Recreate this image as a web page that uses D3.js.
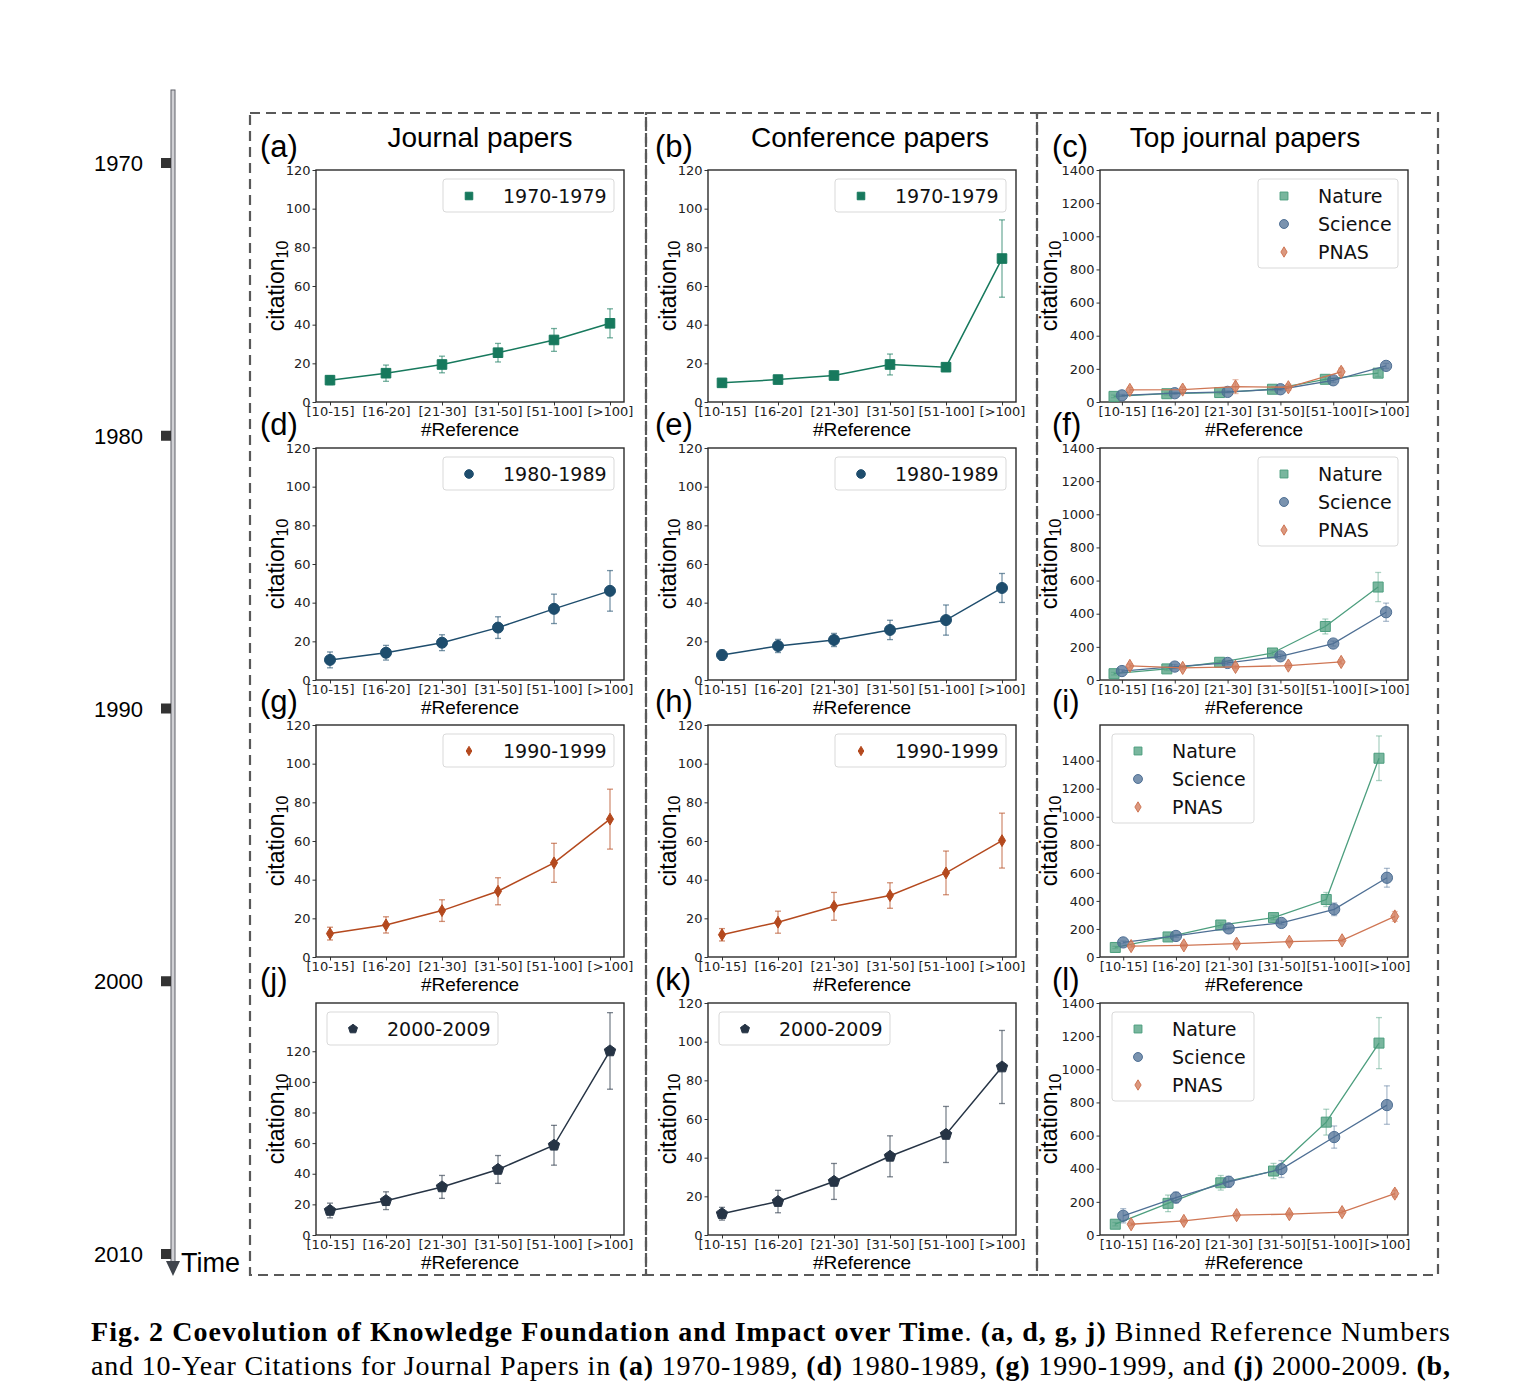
<!DOCTYPE html>
<meta charset="utf-8">
<head>
  <title>Coevolution of Knowledge Foundation and Impact</title>
</head>
<style>
body { margin: 0; background: #fff; }
.tick text { font-family: "DejaVu Sans", sans-serif; fill: #222; }
.tick line { stroke: #333; }
</style>

<script src="https://d3js.org/d3.v7.min.js"></script>

<div id="viz"></div>

<script>
// ---- data ----
var bins = ["[10-15]", "[16-20]", "[21-30]", "[31-50]", "[51-100]", "[>100]"];

// journal papers (a, d, g, j)
var jour70 = [11.3, 14.9, 19.4, 25.5, 32.1, 40.7];
var jour70Err = [2.3, 4.2, 4.3, 4.8, 5.9, 7.5];
var jour80 = [10.4, 14.1, 19.3, 27.1, 36.8, 46.1];
var jour80Err = [4.1, 3.8, 4.1, 5.6, 7.6, 10.5];
var jour90 = [12.1, 16.6, 24.0, 34.0, 48.7, 71.3];
var jour90Err = [3.3, 4.2, 5.6, 7.0, 10.1, 15.5];
var jour00 = [16.0, 22.4, 31.4, 42.8, 58.6, 120.2];
var jour00Err = [4.8, 5.8, 7.5, 9.1, 13.0, 25.0];

// conference papers (b, e, h, k)
var conf70 = [9.9, 11.6, 13.7, 19.4, 18.0, 74.2];
var conf70Err = [1.0, 1.2, 1.2, 5.4, 1.5, 20.0];
var conf80 = [12.9, 17.6, 20.7, 25.9, 31.0, 47.6];
var conf80Err = [2.6, 3.4, 3.4, 5.0, 7.8, 7.5];
var conf90 = [11.5, 18.0, 26.2, 31.8, 43.5, 60.2];
var conf90Err = [3.2, 5.7, 7.2, 6.6, 11.3, 14.2];
var conf00 = [11.0, 17.3, 27.7, 40.7, 52.0, 86.9];
var conf00Err = [3.3, 5.8, 9.3, 10.6, 14.5, 18.9];

// top journal papers (c, f, i, l)
var nature70 = [34, 50, 57, 77, 137, 174];
var nature70Err = [8, 8, 8, 10, 15, 20];
var science70 = [40, 53, 61, 77, 131, 218];
var science70Err = [6, 6, 6, 8, 12, 15];
var pnas70 = [73, 75, 93, 89, 182];
var pnas70Err = [15, 15, 42, 18, 22];

var nature80 = [38, 67, 107, 163, 323, 561];
var nature80Err = [8, 10, 10, 12, 45, 88];
var science80 = [54, 81, 103, 143, 220, 409];
var science80Err = [8, 12, 10, 12, 15, 55];
var pnas80 = [85, 73, 79, 87, 109];
var pnas80Err = [12, 10, 10, 10, 12];

var nature90 = [68, 143, 228, 281, 410, 1417];
var nature90Err = [8, 10, 15, 15, 50, 159];
var science90 = [104, 150, 204, 243, 340, 565];
var science90Err = [10, 10, 10, 12, 45, 67];
var pnas90 = [78, 83, 95, 109, 119, 289];
var pnas90Err = [8, 8, 8, 8, 8, 35];

var nature00 = [65, 191, 315, 386, 681, 1158];
var nature00Err = [10, 50, 44, 46, 78, 154];
var science00 = [116, 226, 321, 398, 591, 784];
var science00Err = [43, 33, 33, 51, 67, 116];
var pnas00 = [65, 85, 120, 126, 138, 250];
var pnas00Err = [8, 8, 10, 10, 10, 20];

var decades = ["1970-1979", "1980-1989", "1990-1999", "2000-2009"];
var journals = ["Nature", "Science", "PNAS"];
var timeYears = [1970, 1980, 1990, 2000, 2010];
var colTitles = ["Journal papers", "Conference papers", "Top journal papers"];
var panelLetters = [["a", "b", "c"], ["d", "e", "f"], ["g", "h", "i"], ["j", "k", "l"]];
var ticks120 = [0, 20, 40, 60, 80, 100, 120];
var ticks1400 = [0, 200, 400, 600, 800, 1000, 1200, 1400];

// ---- markers ----
var symThinDiamond = { draw: function(ctx, size) {
  var h = Math.sqrt(size / 0.3) / 2, w = h * 0.6;
  ctx.moveTo(0, -h); ctx.lineTo(w, 0); ctx.lineTo(0, h); ctx.lineTo(-w, 0); ctx.closePath();
}};
var symPentagon = { draw: function(ctx, size) {
  var r = Math.sqrt(size / 2.378);
  for (var i = 0; i < 5; i++) {
    var a = -Math.PI / 2 + i * 2 * Math.PI / 5;
    if (i == 0) ctx.moveTo(r * Math.cos(a), r * Math.sin(a));
    else ctx.lineTo(r * Math.cos(a), r * Math.sin(a));
  }
  ctx.closePath();
}};

var decadeStyle = [
  {color: "#17795d", sym: d3.symbolSquare, size: 92},
  {color: "#1e4d6d", sym: d3.symbolCircle, size: 95},
  {color: "#b4491e", sym: symThinDiamond, size: 42},
  {color: "#263445", sym: symPentagon, size: 85}
];
var journalStyle = [
  {color: "#4c9e7e", sym: d3.symbolSquare, size: 100, offset: -0.15},
  {color: "#4e6f94", sym: d3.symbolCircle, size: 100, offset: 0},
  {color: "#cf7654", sym: symThinDiamond, size: 52, offset: 0.15}
];

// ---- layout ----
var colLeft = [316, 708, 1100];
var rowTop = [170, 448, 725, 1003];
var pw = 308, ph = 232;

var svg = d3.select("#viz").append("svg")
  .attr("width", 1540).attr("height", 1385);

// dashed column boxes
[[250, 646], [646, 1037], [1037, 1438]].forEach(function(c) {
  svg.append("rect")
    .attr("x", c[0]).attr("y", 113).attr("width", c[1] - c[0]).attr("height", 1162)
    .attr("fill", "none").attr("stroke", "#595959").attr("stroke-width", 2.2)
    .attr("stroke-dasharray", "10,6");
});

// column titles
[480, 870, 1245].forEach(function(cx, i) {
  svg.append("text").attr("x", cx).attr("y", 147)
    .attr("text-anchor", "middle")
    .style("font-family", "Liberation Sans, Arial, sans-serif").style("font-size", "28px")
    .text(colTitles[i]);
});

function drawPanel(col, row, series, opts) {
  var left = colLeft[col], top = rowTop[row];
  var g = svg.append("g").attr("transform", "translate(" + left + "," + top + ")");

  var x = d3.scaleLinear().domain(opts.xDomain).range([0, pw]);
  var y = d3.scaleLinear().domain([0, opts.yMax]).range([ph, 0]);

  g.append("g")
    .attr("transform", "translate(0," + ph + ")")
    .call(d3.axisBottom(x).tickValues(d3.range(bins.length)).tickFormat(function(i) { return bins[i]; })
      .tickSize(3.5).tickPadding(1.5))
    .call(function(a) { a.select(".domain").remove(); })
    .selectAll("text").style("font-size", "13px");

  g.append("g")
    .call(d3.axisLeft(y).tickValues(opts.yTicks).tickFormat(d3.format("d")).tickSize(3.5).tickPadding(2))
    .call(function(a) { a.select(".domain").remove(); })
    .selectAll("text").style("font-size", "13px");

  g.append("rect").attr("width", pw).attr("height", ph)
    .attr("fill", "none").attr("stroke", "#2b2b2b").attr("stroke-width", 1.4);

  series.forEach(function(s) {
    var pts = s.values.map(function(v, i) { return {x: i + s.offset, v: v, e: s.err[i]}; });
    var line = d3.line().x(function(d) { return x(d.x); }).y(function(d) { return y(d.v); });
    g.append("path").datum(pts)
      .attr("d", line).attr("fill", "none")
      .attr("stroke", s.color).attr("stroke-width", s.lw);

    var eb = g.append("g").attr("stroke", s.color).attr("stroke-opacity", s.errOpacity).attr("stroke-width", 1.3);
    pts.forEach(function(d) {
      var cx = x(d.x);
      eb.append("line").attr("x1", cx).attr("x2", cx).attr("y1", y(d.v - d.e)).attr("y2", y(d.v + d.e));
      eb.append("line").attr("x1", cx - 3).attr("x2", cx + 3).attr("y1", y(d.v - d.e)).attr("y2", y(d.v - d.e));
      eb.append("line").attr("x1", cx - 3).attr("x2", cx + 3).attr("y1", y(d.v + d.e)).attr("y2", y(d.v + d.e));
    });

    g.append("g").selectAll("path").data(pts).enter().append("path")
      .attr("transform", function(d) { return "translate(" + x(d.x) + "," + y(d.v) + ")"; })
      .attr("d", d3.symbol().type(s.sym).size(s.size))
      .attr("fill", s.color).attr("fill-opacity", s.fillOpacity)
      .attr("stroke", s.color).attr("stroke-width", 1);
  });

  // legend
  var lg = opts.legend;
  g.append("rect")
    .attr("x", lg.x).attr("y", 9).attr("width", lg.w).attr("height", 33 + (series.length - 1) * 28)
    .attr("rx", 3).attr("fill", "#fff").attr("fill-opacity", 0.8)
    .attr("stroke", "#d9d9d9").attr("stroke-width", 1);
  series.forEach(function(s, i) {
    var ly = 26 + i * 28;
    g.append("path")
      .attr("transform", "translate(" + (lg.x + 26) + "," + ly + ")")
      .attr("d", d3.symbol().type(s.sym).size(s.size * 0.62))
      .attr("fill", s.color).attr("fill-opacity", s.fillOpacity)
      .attr("stroke", s.color).attr("stroke-width", 1);
    g.append("text").attr("x", lg.x + 60).attr("y", ly + 7)
      .style("font-family", "DejaVu Sans, sans-serif").style("font-size", "19px")
      .attr("fill", "#111").text(s.label);
  });

  // axis labels
  var yl = g.append("text")
    .attr("transform", "translate(" + (-opts.ylabelGap) + "," + (ph / 2) + ") rotate(-90)")
    .attr("text-anchor", "middle")
    .style("font-family", "Liberation Sans, Arial, sans-serif").style("font-size", "23px");
  yl.append("tspan").text("citation");
  yl.append("tspan").attr("dy", 4).style("font-size", "16px").text("10");

  g.append("text").attr("x", pw / 2).attr("y", ph + 34)
    .attr("text-anchor", "middle")
    .style("font-family", "Liberation Sans, Arial, sans-serif").style("font-size", "19px")
    .text("#Reference");

  // panel letter
  svg.append("text").attr("x", [260, 655, 1052][col]).attr("y", top - 13)
    .style("font-family", "Liberation Sans, Arial, sans-serif").style("font-size", "31px")
    .text("(" + panelLetters[row][col] + ")");
}

function single(row, values, err) {
  var st = decadeStyle[row];
  return [{values: values, err: err, offset: 0, color: st.color, sym: st.sym, size: st.size,
           fillOpacity: 1, errOpacity: 0.6, lw: 1.5, label: decades[row]}];
}
function triple(vals) {
  return vals.map(function(p, i) {
    var st = journalStyle[i];
    return {values: p[0], err: p[1], offset: st.offset, color: st.color, sym: st.sym, size: st.size,
            fillOpacity: 0.75, errOpacity: 0.45, lw: 1.3, label: journals[i]};
  });
}

var legRight = {x: 127, w: 171};
var legLeft = {x: 11, w: 171};
var journalData = [[jour70, jour70Err], [jour80, jour80Err], [jour90, jour90Err], [jour00, jour00Err]];
var confData = [[conf70, conf70Err], [conf80, conf80Err], [conf90, conf90Err], [conf00, conf00Err]];
var topData = [
  [[nature70, nature70Err], [science70, science70Err], [pnas70, pnas70Err]],
  [[nature80, nature80Err], [science80, science80Err], [pnas80, pnas80Err]],
  [[nature90, nature90Err], [science90, science90Err], [pnas90, pnas90Err]],
  [[nature00, nature00Err], [science00, science00Err], [pnas00, pnas00Err]]
];

for (var r = 0; r < 4; r++) {
  drawPanel(0, r, single(r, journalData[r][0], journalData[r][1]), {
    xDomain: [-0.25, 5.25], yMax: r == 3 ? 151.5 : 120, yTicks: ticks120,
    legend: r == 3 ? legLeft : legRight, ylabelGap: 32
  });
  drawPanel(1, r, single(r, confData[r][0], confData[r][1]), {
    xDomain: [-0.25, 5.25], yMax: 120, yTicks: ticks120,
    legend: r == 3 ? legLeft : legRight, ylabelGap: 32
  });
  drawPanel(2, r, triple(topData[r]), {
    xDomain: r < 2 ? [-0.415, 5.415] : [-0.44, 5.4], yMax: r == 2 ? 1654 : 1400, yTicks: ticks1400,
    legend: r < 2 ? {x: 158, w: 140} : {x: 12, w: 142}, ylabelGap: 43
  });
}

// ---- timeline ----
var ty = d3.scaleLinear().domain([1970, 2010]).range([163, 1254]);
svg.append("rect").attr("x", 171).attr("y", 90).attr("width", 4).attr("height", 1172)
  .attr("fill", "#d0d0d4").attr("stroke", "#5f6068").attr("stroke-width", 1);
svg.append("path").attr("d", "M166,1261 L180,1261 L173,1276 Z").attr("fill", "#3f444c");
svg.append("g").selectAll("rect").data(timeYears).enter().append("rect")
  .attr("x", 161).attr("y", function(d) { return ty(d) - 5; })
  .attr("width", 10).attr("height", 10).attr("fill", "#333");
svg.append("g").selectAll("text").data(timeYears).enter().append("text")
  .attr("x", 143).attr("y", function(d) { return ty(d) + 8; })
  .attr("text-anchor", "end")
  .style("font-family", "Liberation Sans, Arial, sans-serif").style("font-size", "22px")
  .text(function(d) { return d; });
svg.append("text").attr("x", 181).attr("y", 1272)
  .style("font-family", "Liberation Sans, Arial, sans-serif").style("font-size", "27px")
  .text("Time");

// ---- caption ----
var cap1 = [
  ["Fig. 2 Coevolution of Knowledge Foundation and Impact over Time", true], [". ", false],
  ["(a, d, g, j)", true], [" Binned Reference Numbers", false]
];
var cap2 = [
  ["and 10-Year Citations for Journal Papers in ", false], ["(a)", true], [" 1970-1989, ", false],
  ["(d)", true], [" 1980-1989, ", false], ["(g)", true], [" 1990-1999, and ", false],
  ["(j)", true], [" 2000-2009. ", false], ["(b,", true]
];
[[cap1, 1341], [cap2, 1375]].forEach(function(c) {
  var t = svg.append("text").attr("x", 91).attr("y", c[1])
    .attr("textLength", 1359).attr("lengthAdjust", "spacing")
    .style("font-family", "Liberation Serif, Times New Roman, serif").style("font-size", "28px")
    .attr("xml:space", "preserve").style("white-space", "pre");
  c[0].forEach(function(p) {
    t.append("tspan").style("font-weight", p[1] ? "bold" : "normal").text(p[0]);
  });
});
</script>
